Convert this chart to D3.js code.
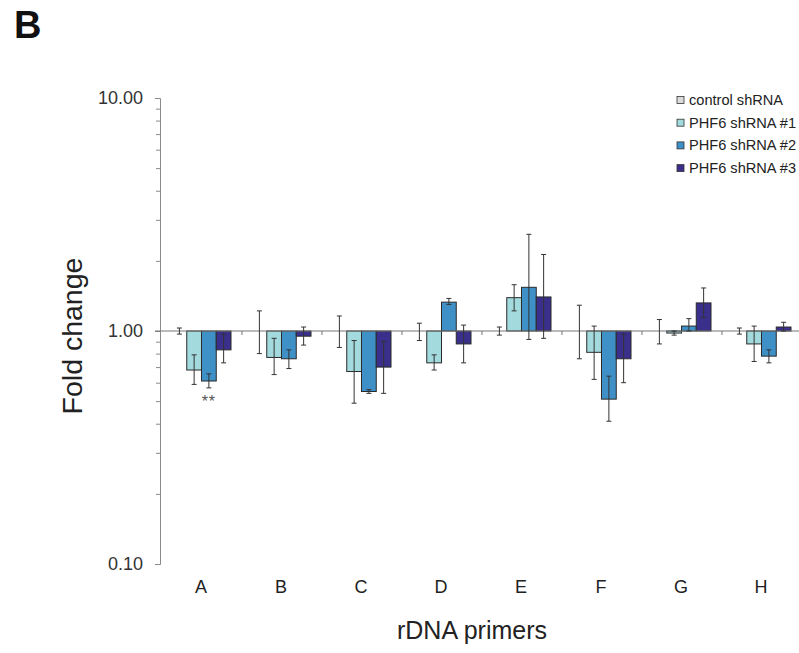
<!DOCTYPE html>
<html>
<head>
<meta charset="utf-8">
<script src="https://cdn.jsdelivr.net/npm/d3@7"></script>
<style>
  body { margin: 0; background: #fff; }
  text { font-family: "Liberation Sans", Arial, sans-serif; }
</style>
</head>
<body>
<div id="chart"></div>
<script>
const categories = ["A", "B", "C", "D", "E", "F", "G", "H"]
const seriesNames = ["control shRNA", "PHF6 shRNA #1", "PHF6 shRNA #2", "PHF6 shRNA #3"]

// fold change per primer
const control = [1.00, 1.00, 1.00, 1.00, 1.00, 1.00, 1.00, 1.00]
const sh1 = [0.68, 0.77, 0.67, 0.73, 1.39, 0.81, 0.98, 0.88]
const sh2 = [0.61, 0.76, 0.55, 1.33, 1.54, 0.51, 1.05, 0.78]
const sh3 = [0.83, 0.95, 0.70, 0.88, 1.40, 0.76, 1.32, 1.04]

// error bars as [minus, plus]
const controlErr = [[0.03, 0.03], [0.20, 0.22], [0.15, 0.16], [0.09, 0.08], [0.04, 0.04], [0.24, 0.29], [0.12, 0.12], [0.03, 0.03]]
const sh1Err = [[0.09, 0.11], [0.12, 0.16], [0.18, 0.24], [0.05, 0.06], [0.17, 0.19], [0.19, 0.24], [0.02, 0.02], [0.14, 0.17]]
const sh2Err = [[0.04, 0.045], [0.07, 0.07], [0.01, 0.01], [0.03, 0.05], [0.62, 1.06], [0.10, 0.13], [0.05, 0.08], [0.05, 0.05]]
const sh3Err = [[0.10, 0.14], [0.08, 0.09], [0.16, 0.20], [0.15, 0.18], [0.47, 0.73], [0.16, 0.21], [0.18, 0.21], [0.04, 0.05]]

const majorTicks = [0.1, 1, 10]
const colors = ["#dcdcdc", "#a3dadd", "#3f90c6", "#3b2f8c"]

const W = 799, H = 653
const PLOT = { LEFT: 161, RIGHT: 801, TOP: 98, BOTTOM: 564 }

const svg = d3.select("#chart").append("svg")
  .attr("width", W)
  .attr("height", H)

const values = [control, sh1, sh2, sh3]
const errs = [controlErr, sh1Err, sh2Err, sh3Err]

const x = d3.scaleBand()
  .domain(categories)
  .range([PLOT.LEFT + 1, PLOT.RIGHT + 1])

const xs = d3.scaleBand()
  .domain(seriesNames)
  .range([10, 69])

const y = d3.scaleLog()
  .domain([0.1, 10])
  .range([PLOT.BOTTOM, PLOT.TOP])

// panel letter
svg.append("text")
  .attr("x", 14)
  .attr("y", 38)
  .attr("font-size", "38px")
  .attr("font-weight", "bold")
  .attr("fill", "#111")
  .text("B")

// y axis
const yAxisG = svg.append("g")
  .attr("transform", `translate(${PLOT.LEFT - 1},0)`)
  .call(d3.axisLeft(y).tickValues(majorTicks).tickFormat(d3.format(".2f")).tickSize(5).tickPadding(12))
yAxisG.select(".domain").attr("stroke", "#8a8a8a")
yAxisG.selectAll(".tick line").attr("stroke", "#8a8a8a")
yAxisG.selectAll(".tick text").attr("font-size", "18px").attr("fill", "#333")
  .style("font-family", "'Liberation Sans', Arial, sans-serif")

const minor = []
;[0.1, 1].forEach(b => { for (let k = 2; k <= 9; k++) minor.push(b * k) })
const yMinorG = svg.append("g")
  .attr("transform", `translate(${PLOT.LEFT - 1},0)`)
  .call(d3.axisLeft(y).tickValues(minor).tickFormat("").tickSize(4))
yMinorG.select(".domain").remove()
yMinorG.selectAll(".tick line").attr("stroke", "#8a8a8a")

svg.append("text")
  .attr("transform", `translate(82, ${(PLOT.TOP + PLOT.BOTTOM) / 2 + 5}) rotate(-90)`)
  .attr("text-anchor", "middle")
  .attr("font-size", "28.5px")
  .attr("fill", "#222")
  .text("Fold change")

// bars
const flat = []
categories.forEach((c, i) => {
  seriesNames.forEach((s, j) => {
    flat.push({ cat: c, series: s, idx: j, value: values[j][i], err: errs[j][i] })
  })
})

svg.append("g").selectAll("rect")
  .data(flat)
  .enter().append("rect")
    .attr("x", d => x(d.cat) + xs(d.series))
    .attr("width", xs.bandwidth())
    .attr("y", d => Math.min(y(d.value), y(1)))
    .attr("height", d => Math.abs(y(d.value) - y(1)))
    .attr("fill", d => colors[d.idx])
    .attr("stroke", "#2a2a2a")
    .attr("stroke-width", 1)

// baseline at 1.0 with group separators
svg.append("line")
  .attr("x1", PLOT.LEFT - 6)
  .attr("x2", W)
  .attr("y1", y(1))
  .attr("y2", y(1))
  .attr("stroke", "#777")
  .attr("stroke-width", 1.2)

svg.append("g").selectAll("line")
  .data(categories.slice(1))
  .enter().append("line")
    .attr("x1", d => x(d))
    .attr("x2", d => x(d))
    .attr("y1", y(1))
    .attr("y2", y(1) + 4)
    .attr("stroke", "#777")

// error bars
const eb = svg.append("g")
  .attr("stroke", "#333")
  .attr("stroke-width", 1)
flat.forEach(d => {
  const cx = x(d.cat) + xs(d.series) + xs.bandwidth() / 2
  const lo = y(d.value - d.err[0])
  const hi = y(d.value + d.err[1])
  eb.append("line").attr("x1", cx).attr("x2", cx).attr("y1", lo).attr("y2", hi)
  eb.append("line").attr("x1", cx - 2.5).attr("x2", cx + 2.5).attr("y1", lo).attr("y2", lo)
  eb.append("line").attr("x1", cx - 2.5).attr("x2", cx + 2.5).attr("y1", hi).attr("y2", hi)
})

// significance mark
svg.append("text")
  .attr("x", x("A") + xs(seriesNames[2]) + xs.bandwidth() / 2)
  .attr("y", 407)
  .attr("text-anchor", "middle")
  .attr("font-size", "16px")
  .attr("letter-spacing", "1px")
  .attr("fill", "#555")
  .text("**")

// category labels
svg.append("g").selectAll("text")
  .data(categories)
  .enter().append("text")
    .attr("x", d => x(d) + x.bandwidth() / 2 - 1)
    .attr("y", 593)
    .attr("text-anchor", "middle")
    .attr("font-size", "18px")
    .attr("fill", "#222")
    .text(d => d)

svg.append("text")
  .attr("x", 472)
  .attr("y", 639)
  .attr("text-anchor", "middle")
  .attr("font-size", "25px")
  .attr("fill", "#222")
  .text("rDNA primers")

// legend
const legend = svg.append("g")
  .attr("transform", "translate(677, 100)")
const rows = legend.selectAll("g")
  .data(seriesNames)
  .enter().append("g")
    .attr("transform", (d, i) => `translate(0, ${i * 22.7})`)
rows.append("rect")
  .attr("x", 0)
  .attr("y", -3.5)
  .attr("width", 7)
  .attr("height", 7)
  .attr("fill", (d, i) => colors[i])
  .attr("stroke", "#333")
  .attr("stroke-width", 0.8)
rows.append("text")
  .attr("x", 12)
  .attr("y", 5)
  .attr("font-size", "14.6px")
  .attr("fill", "#222")
  .text(d => d)
</script>
</body>
</html>
